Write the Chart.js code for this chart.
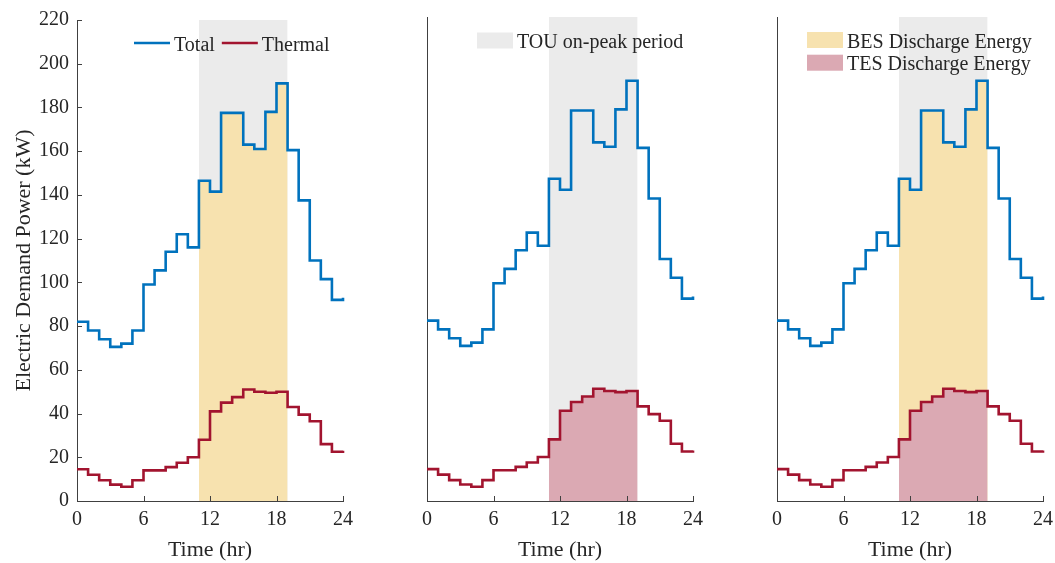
<!DOCTYPE html>
<html>
<head>
<meta charset="utf-8">
<script src="https://cdn.jsdelivr.net/npm/chart.js@4.4.1/dist/chart.umd.min.js"></script>
<style>
  html, body { margin: 0; background: #fff; overflow: hidden; }
  #wrap { position: relative; width: 1055px; height: 563px; overflow: hidden; }
  canvas { position: absolute; top: 0; }
</style>
</head>
<body>
<div id="wrap">
  <canvas id="panel1" width="370" height="563" style="left:0"></canvas>
  <canvas id="panel2" width="320" height="563" style="left:400px"></canvas>
  <canvas id="panel3" width="310" height="563" style="left:750px"></canvas>
</div>
<script>
// hourly demand, value at hour h holds until h+1 (last entry is the end point at 24)
const hours = [0, 1, 2, 3, 4, 5, 6, 7, 8, 9, 10, 11, 12, 13, 14, 15, 16, 17, 18, 19, 20, 21, 22, 23, 24];
const totalPower = [82, 78, 74, 70.5, 72, 78, 99, 105.5, 114, 122, 116, 146.5, 141.5, 177.5, 177.5, 163, 161, 178, 191, 160.5, 137.5, 110, 101.5, 92, 93];
const thermalPower = [14.5, 12, 9.5, 7.5, 6.5, 9.5, 14, 14, 15.5, 17.5, 20, 28, 41, 45, 47.5, 51, 50, 49.5, 50, 43, 39.5, 36.5, 26, 22.5, 23];
const peakPeriod = [11, 19];
const timeTicks = [0, 6, 12, 18, 24];
const powerTicks = [0, 20, 40, 60, 80, 100, 120, 140, 160, 180, 200, 220];

const FONT = '"Liberation Serif", "Times New Roman", serif';
const TEXT = '#262626';
const AXIS = '#404040';
const BLUE = '#0072BD';
const RED = '#A2142F';
const YELLOW = '#F7E2AF';
const PINK = '#DBA9B3';
const GRAY = '#EBEBEB';

Chart.defaults.font.family = FONT;
Chart.defaults.color = TEXT;

const toPoints = vals => hours.map((h, i) => ({ x: h, y: vals[i] }));
// the part of a series inside the on-peak window
const peakPoints = vals => hours
  .filter(h => h >= peakPeriod[0] && h <= peakPeriod[1])
  .map(h => ({ x: h, y: vals[Math.min(h, peakPeriod[1] - 1)] }));

const innerTicks = {
  id: 'innerTicks',
  afterDatasetsDraw(chart, args, o) {
    const { ctx, chartArea: a, scales: { x, y } } = chart;
    ctx.save();
    ctx.strokeStyle = AXIS;
    ctx.lineWidth = 1;
    ctx.beginPath();
    x.ticks.forEach(t => {
      const px = Math.round(x.getPixelForValue(t.value)) + 0.5;
      ctx.moveTo(px, a.bottom);
      ctx.lineTo(px, a.bottom - 5);
    });
    if (o.yTicks) {
      y.ticks.forEach(t => {
        const py = Math.round(y.getPixelForValue(t.value)) + 0.5;
        ctx.moveTo(a.left, py);
        ctx.lineTo(a.left + 5, py);
      });
    }
    ctx.stroke();
    ctx.restore();
  }
};

const panelLegend = {
  id: 'panelLegend',
  afterDraw(chart, args, o) {
    if (!o.items) return;
    const { ctx, chartArea } = chart;
    ctx.save();
    ctx.font = '20px ' + FONT;
    ctx.textBaseline = 'alphabetic';
    let x = chartArea.left + o.x;
    let y = chartArea.top + o.y;
    o.items.forEach(it => {
      if (it.kind === 'line') {
        ctx.strokeStyle = it.color;
        ctx.lineWidth = 2.5;
        ctx.beginPath();
        ctx.moveTo(x, y);
        ctx.lineTo(x + 36, y);
        ctx.stroke();
      } else {
        ctx.fillStyle = it.color;
        ctx.fillRect(x, y - 8, 36, 16);
      }
      ctx.fillStyle = TEXT;
      ctx.fillText(it.text, x + 40, y + 7.5);
      if (o.dir === 'row') x += 40 + ctx.measureText(it.text).width + 7;
      else y += 22.7;
    });
    ctx.restore();
  }
};

function makePanel(id, cfg) {
  const datasets = [
    { data: [{ x: peakPeriod[0], y: 220 }, { x: peakPeriod[1], y: 220 }],
      fill: 'origin', backgroundColor: GRAY, borderColor: 'rgba(0,0,0,0)', borderWidth: 0, pointRadius: 0, order: 10 }
  ];
  if (cfg.bes) datasets.push({ data: peakPoints(totalPower), stepped: true, fill: 'origin',
    backgroundColor: YELLOW, borderColor: 'rgba(0,0,0,0)', borderWidth: 0, pointRadius: 0, order: 9 });
  if (cfg.tes) datasets.push({ data: peakPoints(thermalPower), stepped: true, fill: 'origin',
    backgroundColor: PINK, borderColor: 'rgba(0,0,0,0)', borderWidth: 0, pointRadius: 0, order: 8 });
  datasets.push(
    { label: 'Thermal', data: toPoints(thermalPower), stepped: true, borderColor: RED, borderWidth: 2.6,
      pointRadius: 0, fill: false, clip: false, order: 1 },
    { label: 'Total', data: toPoints(totalPower), stepped: true, borderColor: BLUE, borderWidth: 2.6,
      pointRadius: 0, fill: false, clip: false, order: 0 }
  );

  new Chart(document.getElementById(id), {
    type: 'line',
    data: { datasets },
    options: {
      responsive: false,
      animation: false,
      events: [],
      layout: { padding: { top: 17, right: cfg.right, bottom: 0, left: 0 } },
      scales: {
        x: {
          type: 'linear', min: 0, max: 24,
          afterBuildTicks: s => { s.ticks = timeTicks.map(v => ({ value: v })); },
          afterFit: s => { s.height = 62; },
          grid: { display: false, drawTicks: false },
          border: { display: true, color: AXIS, width: 1 },
          ticks: { font: { size: 20 }, padding: 7, color: TEXT, maxRotation: 0 },
          title: { display: true, text: 'Time (hr)', font: { size: 22 }, padding: { top: 0, bottom: 0 }, color: TEXT }
        },
        y: {
          type: 'linear', min: 0, max: 220,
          afterBuildTicks: s => { s.ticks = powerTicks.map(v => ({ value: v })); },
          afterFit: s => { s.width = cfg.yWidth; },
          grid: { display: false, drawTicks: false },
          border: { display: true, color: AXIS, width: 1 },
          ticks: { display: cfg.yLabels, font: { size: 20 }, padding: 8, color: TEXT },
          title: { display: cfg.yLabels, text: 'Electric Demand Power (kW)', font: { size: 22 },
            padding: { top: 11, bottom: 0 }, color: TEXT }
        }
      },
      plugins: {
        legend: { display: false },
        tooltip: { enabled: false },
        innerTicks: { yTicks: cfg.yLabels },
        panelLegend: cfg.legend
      }
    },
    plugins: [innerTicks, panelLegend]
  });
}

makePanel('panel1', { bes: true, tes: false, yLabels: true, yWidth: 77, right: 27,
  legend: { dir: 'row', x: 57, y: 23, items: [
    { kind: 'line', color: BLUE, text: 'Total' },
    { kind: 'line', color: RED, text: 'Thermal' }
  ] } });

makePanel('panel2', { bes: false, tes: true, yLabels: false, yWidth: 27, right: 27,
  legend: { dir: 'col', x: 50, y: 23.5, items: [
    { kind: 'box', color: GRAY, text: 'TOU on-peak period' }
  ] } });

makePanel('panel3', { bes: true, tes: true, yLabels: false, yWidth: 27, right: 17,
  legend: { dir: 'col', x: 30, y: 23, items: [
    { kind: 'box', color: YELLOW, text: 'BES Discharge Energy' },
    { kind: 'box', color: PINK, text: 'TES Discharge Energy' }
  ] } });
</script>
</body>
</html>
